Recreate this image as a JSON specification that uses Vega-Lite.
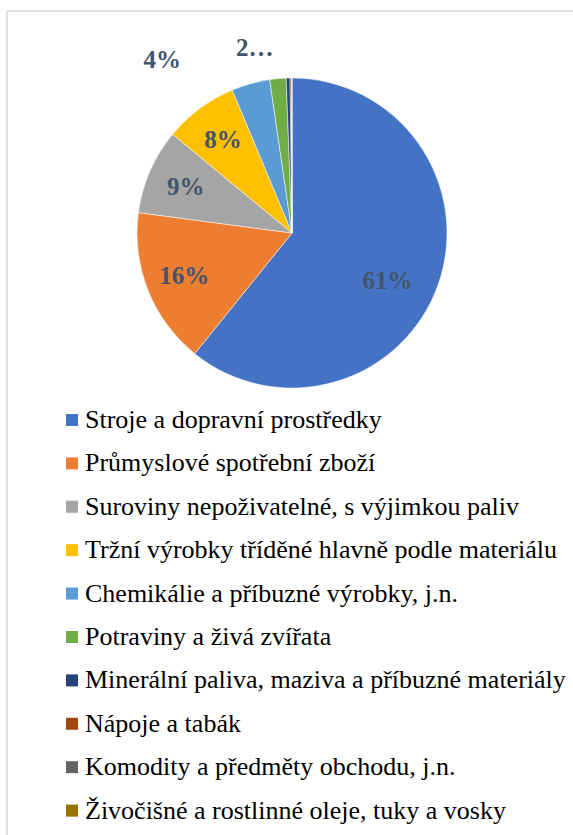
{
  "$schema": "https://vega.github.io/schema/vega-lite/v6.json",
  "width": 570,
  "height": 900,
  "autosize": {"type": "none"},
  "padding": {"left": 7, "top": 11, "right": 0, "bottom": 0},
  "background": "white",
  "config": {
    "view": {"stroke": null},
    "font": "Liberation Serif"
  },
  "data": {
    "values": [
      {"order": 1, "category": "Stroje a dopravní prostředky", "value": 60.8, "label": "61%"},
      {"order": 2, "category": "Průmyslové spotřební zboží", "value": 16.3, "label": "16%"},
      {"order": 3, "category": "Suroviny nepoživatelné, s výjimkou paliv", "value": 8.9, "label": "9%"},
      {"order": 4, "category": "Tržní výrobky tříděné hlavně podle materiálu", "value": 7.7, "label": "8%"},
      {"order": 5, "category": "Chemikálie a příbuzné výrobky, j.n.", "value": 4.0, "label": "4%"},
      {"order": 6, "category": "Potraviny a živá zvířata", "value": 1.7, "label": "2…"},
      {"order": 7, "category": "Minerální paliva, maziva a příbuzné materiály", "value": 0.4, "label": "0%"},
      {"order": 8, "category": "Nápoje a tabák", "value": 0.15, "label": "0%"},
      {"order": 9, "category": "Komodity a předměty obchodu, j.n.", "value": 0.03, "label": "0%"},
      {"order": 10, "category": "Živočišné a rostlinné oleje, tuky a vosky", "value": 0.02, "label": "0%"}
    ]
  },
  "layer": [
    {
      "data": {"values": [{"frame": 1}]},
      "mark": {"type": "rect", "fill": null, "fillOpacity": 0, "stroke": "#DDE2E8", "strokeWidth": 2},
      "encoding": {}
    },
    {
      "mark": {"type": "arc", "outerRadius": 155, "y": 222, "stroke": "white", "strokeWidth": 0.5},
      "encoding": {
        "theta": {"field": "value", "type": "quantitative", "stack": true},
        "order": {"field": "order", "type": "quantitative"},
        "color": {
          "field": "category",
          "type": "nominal",
          "scale": {
            "domain": [
              "Stroje a dopravní prostředky",
              "Průmyslové spotřební zboží",
              "Suroviny nepoživatelné, s výjimkou paliv",
              "Tržní výrobky tříděné hlavně podle materiálu",
              "Chemikálie a příbuzné výrobky, j.n.",
              "Potraviny a živá zvířata",
              "Minerální paliva, maziva a příbuzné materiály",
              "Nápoje a tabák",
              "Komodity a předměty obchodu, j.n.",
              "Živočišné a rostlinné oleje, tuky a vosky"
            ],
            "range": ["#4472C4", "#ED7D31", "#A5A5A5", "#FFC000", "#5B9BD5", "#70AD47", "#264478", "#9E480E", "#636363", "#997300"]
          },
          "legend": {
            "orient": "none",
            "legendX": 52,
            "legendY": 396,
            "title": null,
            "padding": 0,
            "symbolType": "square",
            "symbolSize": 144,
            "symbolStrokeWidth": 0,
            "labelFont": "Liberation Serif",
            "labelFontSize": 26,
            "labelColor": "#000000",
            "labelLimit": 600,
            "labelOffset": 0,
            "rowPadding": 17.4
          }
        }
      }
    },
    {
      "mark": {"type": "text", "radius": 116, "y": 222, "font": "Liberation Serif", "fontWeight": "bold", "fontSize": 25, "color": "#44546A", "align": "center", "baseline": "middle"},
      "encoding": {
        "theta": {"field": "value", "type": "quantitative", "stack": true},
        "order": {"field": "order", "type": "quantitative"},
        "text": {"condition": {"test": "datum.value >= 5 && datum.order > 1", "field": "label"}, "value": ""}
      }
    },
    {
      "mark": {"type": "text", "radius": 112, "y": 222, "dx": -10, "dy": 11, "font": "Liberation Serif", "fontWeight": "bold", "fontSize": 25, "color": "#44546A", "align": "center", "baseline": "middle"},
      "encoding": {
        "theta": {"field": "value", "type": "quantitative", "stack": true},
        "order": {"field": "order", "type": "quantitative"},
        "text": {"condition": {"test": "datum.order == 1", "field": "label"}, "value": ""}
      }
    },
    {
      "mark": {"type": "text", "radius": 190, "y": 222, "dx": -79, "dy": 10, "font": "Liberation Serif", "fontWeight": "bold", "fontSize": 25, "color": "#44546A", "align": "center", "baseline": "middle"},
      "encoding": {
        "theta": {"field": "value", "type": "quantitative", "stack": true},
        "order": {"field": "order", "type": "quantitative"},
        "text": {"condition": {"test": "datum.order == 5", "field": "label"}, "value": ""}
      }
    },
    {
      "mark": {"type": "text", "radius": 190, "y": 222, "dx": -20, "dy": 4, "font": "Liberation Serif", "fontWeight": "bold", "fontSize": 25, "color": "#44546A", "align": "center", "baseline": "middle"},
      "encoding": {
        "theta": {"field": "value", "type": "quantitative", "stack": true},
        "order": {"field": "order", "type": "quantitative"},
        "text": {"condition": {"test": "datum.order == 6", "field": "label"}, "value": ""}
      }
    }
  ]
}
